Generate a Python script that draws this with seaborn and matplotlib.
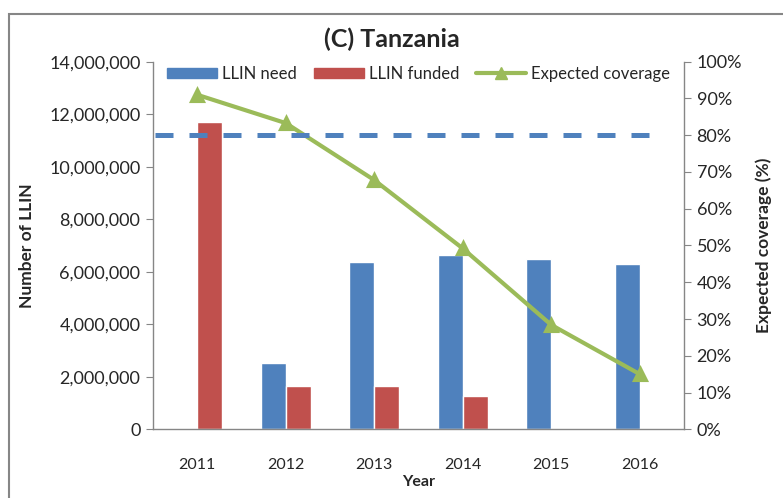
import matplotlib
matplotlib.use("Agg")
import matplotlib.pyplot as plt
import matplotlib.ticker as mticker
from matplotlib.patches import Patch, Rectangle
from matplotlib.lines import Line2D
import seaborn as sns
import pandas as pd

# ==============================================
# DATOS
# ==============================================
anios = ["2011", "2012", "2013", "2014", "2015", "2016"]
llin_need = [0, 2520000, 6370000, 6640000, 6490000, 6300000]
llin_funded = [11710000, 1640000, 1640000, 1260000, 0, 0]
cobertura = [91, 83.3, 67.8, 49.2, 28.4, 15]
meta_cobertura = 80

AZUL = "#4F81BD"
ROJO = "#C0504D"
VERDE = "#9BBB59"
GRIS = "#868686"

df = pd.DataFrame({
    "Year": anios * 2,
    "valor": llin_need + llin_funded,
    "serie": ["LLIN need"] * len(anios) + ["LLIN funded"] * len(anios),
})

sns.set_style("white")
plt.rcParams["font.family"] = ["Lato", "DejaVu Sans"]

fig = plt.figure(figsize=(7.83, 4.98), dpi=100)
ax = fig.add_axes([153 / 783, 1 - 429.3 / 498, (684 - 153) / 783, (429.3 - 61.7) / 498])

sns.barplot(data=df, x="Year", y="valor", hue="serie", order=anios,
            hue_order=["LLIN need", "LLIN funded"], palette=[AZUL, ROJO],
            width=0.566, gap=0, ax=ax, legend=False, saturation=1)

ax.set_xlim(-0.5, 5.5)
ax.set_ylim(0, 14000000)
ax.yaxis.set_major_locator(mticker.MultipleLocator(2000000))
ax.yaxis.set_major_formatter(mticker.FuncFormatter(lambda v, p: f"{int(v):,}"))
ax.set_xticks([i - 0.5 for i in range(7)])
ax.set_xticklabels([])
ax.set_xticks(range(6), minor=True)
ax.set_xticklabels(anios, minor=True)
ax.tick_params(axis="x", which="major", direction="out", length=6, color=GRIS, width=1)
ax.tick_params(axis="x", which="minor", length=0, labelsize=11.5, pad=21)
ax.tick_params(axis="y", direction="out", length=5, color=GRIS, labelsize=13, pad=4)
ax.set_xlabel("Year", fontsize=11.5, fontweight="bold", labelpad=2)
ax.set_ylabel("Number of LLIN", fontsize=12.5, fontweight="bold", labelpad=10)
for lado in ["left", "bottom"]:
    ax.spines[lado].set_color(GRIS)
    ax.spines[lado].set_linewidth(1)
ax.spines["top"].set_visible(False)
ax.spines["right"].set_visible(False)

# Eje secundario: cobertura esperada
ax2 = ax.twinx()
sns.pointplot(x=anios, y=cobertura, order=anios, color=VERDE, markers="^",
              markersize=9, linewidth=3, ax=ax2)
ax2.axhline(meta_cobertura, xmin=0.003, xmax=0.962, color=AZUL, linewidth=3.6,
            dashes=(3.6, 3.2))
ax2.set_xlim(-0.5, 5.5)
ax2.set_ylim(0, 100)
ax2.yaxis.set_major_locator(mticker.MultipleLocator(10))
ax2.yaxis.set_major_formatter(mticker.FuncFormatter(lambda v, p: f"{int(v)}%"))
ax2.tick_params(axis="y", direction="out", length=5, color=GRIS, labelsize=13, pad=4)
ax2.set_ylabel("Expected coverage (%)", fontsize=12.5, fontweight="bold", labelpad=10)
ax2.set_xlabel("")
ax2.spines["right"].set_color(GRIS)
ax2.spines["right"].set_linewidth(1)
for lado in ["top", "left", "bottom"]:
    ax2.spines[lado].set_visible(False)

# Leyenda
handles = [
    Patch(color=AZUL, label="LLIN need"),
    Patch(color=ROJO, label="LLIN funded"),
    Line2D([], [], color=VERDE, linewidth=3, marker="^", markersize=9, label="Expected coverage"),
]
ax2.legend(handles=handles, loc="upper center", bbox_to_anchor=(0.5, 1.03), ncol=3,
           frameon=False, fontsize=12, handlelength=3, handleheight=0.55,
           columnspacing=1.0, handletextpad=0.3)

fig.text(0.5, 1 - 39 / 498, "(C) Tanzania", ha="center", va="center",
         fontsize=18, fontweight="bold")

# Borde del área del gráfico
fig.add_artist(Rectangle((9 / 783, -0.05), 1.0, 1 - 14 / 498 + 0.05,
                         transform=fig.transFigure, fill=False,
                         edgecolor=GRIS, linewidth=1.5))

fig.savefig("out.png", dpi=100)
